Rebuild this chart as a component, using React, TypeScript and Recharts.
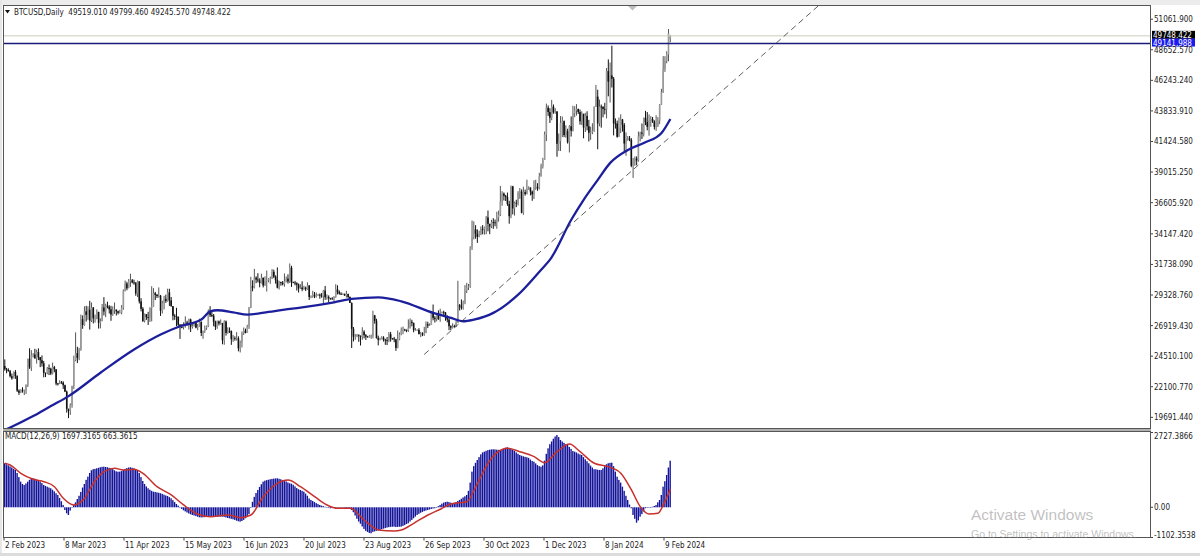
import React from 'react';
import { ComposedChart, Bar, Line, XAxis, YAxis, ReferenceLine } from 'recharts';

const FONT = "'DejaVu Sans Condensed', 'Liberation Sans', Arial, sans-serif";

const SYMBOL_TEXT = 'BTCUSD,Daily  49519.010 49799.460 49245.570 49748.422';
const MACD_TITLE = 'MACD(12,26,9) 1697.3165 663.3615';

// Daily bars [open, high, low, close], 2 Feb 2023 .. 13 Feb 2024
const FEB23 = [
  [23731,24255,23363,23488],[23488,23586,23162,23432],[23432,23552,23290,23327],[23327,23423,22831,22933],
  [22933,23138,22656,22762],[22762,23310,22757,23265],[23265,23421,22719,22940],[22940,23005,21689,21797],
  [21797,21895,21460,21625],[21625,21891,21599,21862],[21862,22060,21635,21788],[21788,21881,21441,21808],
  [21808,22293,21532,22220],[22220,24307,22082,24307],[24307,25134,23505,23623],[23623,24983,23346,24565],
  [24565,24750,24407,24641],[24641,25093,24328,24327],[24327,25018,23927,24830],[24830,25126,24200,24436],
  [24436,24442,23644,24188],[24188,24572,23693,23947],[23947,24133,22842,23199],[23199,23218,22861,23175],
  [23175,23654,23084,23561],[23561,23857,23019,23523],[23523,23596,23021,23147],
];
const MAR23 = [
  [23147,24000,23077,23646],[23646,23739,23245,23475],[23475,23479,22213,22362],[22362,22405,22198,22353],
  [22353,22613,22307,22435],[22435,22554,22331,22429],[22429,22527,21927,22219],[22219,22267,21681,21718],
  [21718,21806,20059,20363],[20363,20370,19628,20187],[20187,20792,19883,20632],[20632,22185,20448,22163],
  [22163,24550,21918,24197],[24197,26386,24111,24746],[24746,25250,23964,24375],[24375,25167,24193,25052],
  [25052,27787,24932,27423],[27423,27724,26667,26965],[26965,28440,26907,28038],[28038,28473,27242,27768],
  [27768,28439,27375,28176],[28176,28868,26601,27307],[27307,28739,27196,28333],[28333,28383,27091,27493],
  [27493,27791,27156,27494],[27494,28194,27422,27994],[27994,28008,26683,27139],[27139,27489,26699,27268],
  [27268,28619,27259,28348],[28348,29159,27720,28033],[28033,28640,27583,28478],
];
const APR23 = [
  [28478,28802,28275,28411],[28411,28529,27872,28200],[28200,28474,27295,27790],[27790,28433,27681,28168],
  [28168,28739,27843,28177],[28177,28189,27713,28044],[28044,28099,27796,27926],[27926,28166,27883,27948],
  [27948,28532,27808,28333],[28333,29770,28170,29653],[29653,30470,29606,30235],[30235,30368,29702,29856],
  [29856,30590,29874,30395],[30395,31005,29968,30485],[30485,30591,30247,30319],[30319,30539,30140,30315],
  [30315,30320,29266,29445],[29445,30470,29163,30397],[30397,30410,28661,28823],[28823,29076,28037,28245],
  [28245,28371,27207,27277],[27277,27872,27169,27817],[27817,27820,27367,27592],[27592,28003,26970,27525],
  [27525,28371,27207,28307],[28307,30020,27250,28422],[28422,29871,28400,29473],[29473,29573,28930,29340],
  [29340,29415,29092,29249],[29249,29930,29125,29268],
];
const MAY23 = [
  [29268,29330,27680,28091],[28091,28876,27873,28680],[28680,29259,28192,29031],[29031,29359,28707,28848],
  [28848,29827,28800,29535],[29535,29820,28468,28904],[28904,29173,28403,28455],[28455,28455,27333,27695],
  [27695,27819,27372,27654],[27654,28323,26866,27622],[27622,27622,26781,26988],[26988,27042,25872,26805],
  [26805,27029,26710,26785],[26785,27181,26612,26931],[26931,27646,26761,27170],[27170,27299,26910,27033],
  [27033,27465,26601,27399],[27399,27466,26415,26833],[26833,27176,26682,26890],[26890,27156,26844,27118],
  [27118,27265,26706,26754],[26754,27045,26556,26852],[26852,27469,26830,27226],[27226,27226,26092,26334],
  [26334,26529,25878,26476],[26476,26919,26345,26719],[26719,26930,26580,26868],[26868,28193,26802,28085],
  [28085,28447,27598,27745],[27745,28044,27588,27702],[27702,27832,26866,27219],
];
const JUN23 = [
  [27219,27303,26575,26819],[26819,27317,26666,27249],[27249,27317,26924,27075],[27075,27407,26986,27119],
  [27119,27131,25446,25760],[25760,27341,25409,27238],[27238,27317,26133,26345],[26345,26782,26272,26508],
  [26508,26775,26340,26480],[26480,26532,25400,25851],[25851,26179,25642,25940],[25940,26071,25727,25902],
  [25902,26403,25738,25919],[25919,26075,24891,25124],[25124,25738,24800,25577],[25577,26463,25192,26328],
  [26328,26770,26181,26511],[26511,26678,26308,26337],[26337,26984,26337,26852],[26852,28389,26657,28328],
  [28328,30760,28299,30027],[30027,30487,29620,29912],[29912,31389,29845,30695],[30695,30800,30263,30548],
  [30548,31045,30324,30481],[30481,30646,29938,30271],[30271,31006,30236,30689],[30689,30703,29926,30086],
  [30086,30796,30058,30446],[30446,31256,29600,30477],
];
const JUL23 = [
  [30477,30649,30330,30590],[30590,30783,30210,30620],[30620,31375,30587,31156],[31156,31325,30659,30777],
  [30777,30877,30223,30514],[30514,31500,29850,29909],[29909,30446,29758,30346],[30346,30378,30064,30292],
  [30292,30427,30085,30172],[30172,31026,29985,30414],[30414,30788,30324,30620],[30620,30959,30228,30392],
  [30392,31814,30269,31476],[31476,31630,29966,30334],[30334,30381,30264,30295],[30295,30437,30089,30249],
  [30249,30336,29685,30145],[30145,30233,29525,29856],[29856,30184,29813,29913],[29913,30410,29629,29792],
  [29792,30055,29734,29908],[29908,29991,29641,29792],[29792,30326,29733,30084],[30084,30093,28934,29177],
  [29177,29298,29074,29228],[29228,29659,29115,29354],[29354,29567,29085,29211],[29211,29524,29125,29314],
  [29314,29402,29262,29353],[29353,29447,29033,29281],[29281,29489,29113,29232],
];
const AUG23 = [
  [29232,29738,28657,29676],[29676,30045,28946,29152],[29152,29376,28959,29178],[29178,29302,28752,29074],
  [29074,29102,28957,29042],[29042,29160,28963,29041],[29041,29244,28724,29180],[29180,30176,29114,29765],
  [29765,30093,29376,29561],[29561,29688,29354,29429],[29429,29542,29328,29397],[29397,29470,29357,29415],
  [29415,29442,29265,29283],[29283,29660,29125,29409],[29409,29439,29088,29170],[29170,29221,28701,28701],
  [28701,28745,25150,26664],[26664,26808,25668,26049],[26049,26260,25802,26096],[26096,26260,26004,26189],
  [26189,26220,25640,26124],[26124,26135,25350,26031],[26031,26787,25804,26431],[26431,26554,25915,26163],
  [26163,26249,25786,26049],[26049,26107,25983,26009],[26009,26167,25965,26090],[26090,26217,25880,26107],
  [26107,28089,25912,27727],[27727,27760,27069,27297],[27297,27456,25900,25931],
];
const SEP23 = [
  [25931,26125,25362,25800],[25800,25970,25753,25869],[25869,26087,25817,25969],[25969,26081,25657,25812],
  [25812,25876,25404,25779],[25779,26021,25382,25753],[25753,26409,25615,26241],[26241,26419,25656,25906],
  [25906,25944,25811,25895],[25895,26026,25605,25832],[25832,25877,24930,25163],[25163,26530,25131,25833],
  [25833,26376,25764,26229],[26229,26774,26158,26539],[26539,26840,26241,26608],[26608,26668,26474,26568],
  [26568,26618,26397,26534],[26534,27409,26415,26754],[26754,27488,26681,27211],[27211,27379,26864,27132],
  [27132,27152,26389,26567],[26567,26726,26495,26579],[26579,26620,26522,26580],[26580,26716,26221,26256],
  [26256,26427,26011,26298],[26298,26389,26090,26217],[26217,26817,26112,26352],[26352,27244,26321,27021],
  [27021,27225,26721,26911],[26911,27091,26888,26967],
];
const OCT23 = [
  [26967,28047,26965,27983],[27983,28580,27335,27530],[27530,27668,27160,27429],[27429,27831,27248,27799],
  [27799,28120,27375,27415],[27415,28252,27216,27946],[27946,28028,27870,27968],[27968,28092,27687,27935],
  [27935,27989,27302,27583],[27583,27732,27170,27391],[27391,27479,26559,26873],[26873,26939,26561,26756],
  [26756,27094,26685,26862],[26862,26989,26789,26861],[26861,27289,26800,27159],[27159,30450,27130,28519],
  [28519,28615,28111,28415],[28415,28980,28175,28328],[28328,28889,28179,28719],[28719,30104,28601,29682],
  [29682,30287,29481,29918],[29918,30199,29720,29993],[29993,33167,29893,33086],[33086,35199,32880,33901],
  [33901,35133,33709,34502],[34502,34832,33762,34156],[34156,34497,33436,33909],[33909,34399,33875,34090],
  [34090,34731,34045,34538],[34538,34834,34112,34502],[34502,34720,34083,34667],
];
const NOV23 = [
  [34667,35560,34119,35437],[35437,35984,34347,34938],[34938,34944,34125,34732],[34732,35251,34600,35082],
  [35082,35380,34544,35049],[35049,35276,34745,35037],[35037,35889,34548,35443],[35443,35979,35111,35655],
  [35655,37926,35549,36693],[36693,37507,36360,37313],[37313,37410,36774,37138],[37138,37215,36731,37054],
  [37054,37402,36352,36502],[36502,36753,34948,35537],[35537,37948,35380,37880],[37880,37930,35680,36154],
  [36154,36689,35586,36596],[36596,36832,36252,36585],[36585,37512,36383,37386],[37386,37758,36904,37476],
  [37476,37650,35765,35813],[35813,37861,35644,37432],[37432,37634,37160,37289],[37289,38415,37253,37720],
  [37720,37892,37617,37797],[37797,37808,37175,37479],[37479,37559,36750,37254],[37254,38368,36891,37831],
  [37831,38409,37618,37858],[37858,38141,37536,37712],
];
const DEC23 = [
  [37712,38954,37644,38688],[38688,39676,38653,39476],[39476,40135,39297,39978],[39978,42210,39972,41980],
  [41980,44408,41458,44081],[44081,44265,43444,43747],[43747,44045,42887,43292],[43292,44700,43104,44167],
  [44167,44339,43612,43725],[43725,44043,43608,43779],[43779,43832,40222,41243],[41243,42048,40680,41450],
  [41450,43429,40676,42891],[42891,43390,41767,43023],[43023,43080,41767,41929],[41929,42702,41719,42240],
  [42240,42427,41262,41364],[41364,42715,40560,42623],[42623,43398,41818,42270],[42270,44240,42218,43652],
  [43652,44206,43335,43869],[43869,44367,43464,43997],[43997,43999,43589,43740],[43740,43946,42749,43017],
  [43017,43802,42720,43613],[43613,43603,41676,42520],[42520,43683,42168,43442],[43442,43805,42302,42627],
  [42627,43124,41424,42099],[42099,42587,41556,42156],[42156,42860,41998,42265],
];
const JAN24 = [
  [42265,44184,42181,44167],[44167,45879,44148,44958],[44958,45500,40813,42848],[42848,44729,42625,44179],
  [44179,44339,42516,44162],[44162,44187,43328,43989],[43989,44468,43563,43943],[43943,47218,43245,46970],
  [46970,47893,44984,46139],[46139,47647,44495,46627],[46627,48969,45679,46368],[46368,46498,41903,42853],
  [42853,43247,42441,42842],[42842,43065,41725,41796],[41796,43311,41793,42511],[42511,43566,42085,43155],
  [43155,43199,42205,42742],[42742,42876,40634,41262],[41262,42136,40297,41618],[41618,41848,41485,41665],
  [41665,41856,41448,41545],[41545,41689,39400,39507],[39507,40128,38555,39845],[39845,40242,39507,40077],
  [40077,40254,39550,39933],[39933,42209,39826,41816],[41816,42195,41431,42120],[42120,42842,41620,42035],
  [42035,43305,41818,43288],[43288,43838,42711,42952],[42952,43745,42304,42582],
];
const FEB24 = [
  [42582,43556,41885,43082],[43082,43422,42585,43185],[43185,43359,42891,42992],[42992,43098,42365,42583],
  [42583,43494,42258,42658],[42658,43344,42565,43084],[43084,44369,42789,44318],[44318,45575,44300,45301],
  [45301,48152,45254,47147],[47147,48146,46906,47771],[47771,48536,47587,48293],[48293,50285,47745,49958],
  [49519.01,49799.46,49245.57,49748.422],
];

// MACD(12,26,9) main line per bar (drawn as histogram)
const MACD_MAIN = [
  1605,1570,1530,1490,1450,1400,1360,1250,1100,934,
  850,813,870,934,1000,1040,1058,1040,1010,990,
  940,880,813,780,750,720,693,640,580,510,
  449,340,220,84,-100,-220,-281,-120,0,84,
  180,300,420,560,720,850,1000,1116,1250,1350,
  1390,1400,1422,1440,1460,1475,1481,1470,1460,1440,
  1422,1390,1350,1310,1298,1300,1320,1360,1400,1430,
  1450,1459,1440,1420,1390,1360,1250,1100,960,850,
  760,693,640,600,569,560,545,530,511,490,
  460,430,412,370,328,260,190,120,60,0,
  -60,-110,-150,-190,-225,-255,-280,-300,-320,-345,
  -365,-370,-365,-360,-355,-350,-345,-343,-343,-345,
  -350,-343,-340,-343,-350,-370,-390,-405,-420,-438,
  -460,-490,-510,-525,-500,-460,-400,-330,-250,-20,
  200,380,520,631,740,840,934,970,990,1005,
  1021,1035,1045,1052,1058,1040,1020,996,970,940,
  905,875,860,820,760,700,660,630,600,569,
  500,420,320,266,230,190,150,115,84,60,
  40,20,0,-20,-36,-30,-20,-10,0,5,
  0,-10,-20,-30,-36,-40,-100,-180,-300,-420,
  -520,-600,-700,-790,-860,-900,-935,-948,-900,-880,
  -860,-840,-828,-800,-780,-760,-740,-725,-715,-710,
  -707,-720,-715,-710,-707,-680,-650,-610,-584,-520,
  -460,-400,-340,-281,-240,-200,-170,-140,-120,-98,
  -80,-60,-45,-36,0,40,84,130,170,190,
  204,190,170,146,160,190,230,266,310,360,
  400,449,600,900,1300,1500,1620,1725,1830,1930,
  2000,2028,2060,2085,2100,2110,2115,2110,2100,2095,
  2090,2110,2140,2170,2188,2160,2130,2090,2060,2000,
  1950,1907,1880,1860,1840,1824,1800,1740,1690,1663,
  1600,1540,1500,1481,1530,1700,1950,2150,2300,2400,
  2500,2580,2637,2560,2454,2400,2350,2300,2272,2200,
  2130,2050,2028,2000,1960,1930,1907,1830,1750,1680,
  1605,1520,1450,1390,1386,1370,1360,1360,1420,1500,
  1570,1605,1620,1627,1500,1300,1116,1000,900,751,
  600,420,266,100,-36,-281,-420,-562,-480,-343,
  -250,-150,-36,-20,-10,0,20,47,80,180,
  266,450,751,950,1178,1450,1697,
];

// Signal line read at these bars
const SIGNAL_IDX = [0,3,9,16,22,28,33,39,45,50,56,62,67,73,78,86,94,101,109,116,126,133,139,146,154,160,167,175,182,188,195,203,211,220,224,231,239,246,252,261,267,273,278,284,291,299,305,312,319,325,333,341,348,354,359,364,369,372,376];
const SIGNAL_VAL = [1605,1543,1240,1021,934,751,328,84,328,875,1298,1422,1360,1386,1240,751,449,84,-255,-343,-281,-379,-281,387,875,996,751,387,84,-36,-36,-463,-828,-864,-828,-584,-281,-73,120,204,875,1605,1991,2152,2028,1845,1627,2028,2309,2028,1605,1481,1240,631,22,-244,-219,84,663];

// Moving average read at these bars
const MA_IDX = [0,3,16,26,36,54,73,88,99,111,116,120,129,137,149,158,167,186,196,211,224,242,252,259,265,276,290,303,308,320,327,335,342,352,361,371,376];
const MA_VAL = [18700,18890,19790,20577,21363,23203,25035,26215,26868,27394,28047,28126,27968,27788,28000,28181,28338,28755,29022,29148,28833,27921,27528,27261,27394,27921,29360,31326,32112,35257,36830,38403,39739,40761,41312,42098,43199];

const PRICE_TICKS = [51061.9,48652.57,46243.24,43833.91,41424.58,39015.25,36605.92,34147.42,31738.09,29328.76,26919.43,24510.1,22100.77,19691.44];
const MACD_TICKS = [2727.3866, 0, -1102.3538];
const MACD_TICK_LABELS = ['2727.3866', '0.00', '-1102.3538'];
const DATE_TICKS = [-0.5,33.4,67.3,101.2,135.1,169,202.9,236.8,270.7,304.6,338.5,372.4];
const DATE_LABELS = ['2 Feb 2023','8 Mar 2023','11 Apr 2023','15 May 2023','16 Jun 2023','20 Jul 2023','23 Aug 2023','26 Sep 2023','30 Oct 2023','1 Dec 2023','8 Jan 2024','9 Feb 2024'];

const BID_PRICE = 49748.422;
const LEVEL_PRICE = 49141.988;
const TREND_IDX = [236.9, 460];
const TREND_PRICE = [24642, 52163];

const X_DOMAIN = [-0.5, 647];
const PRICE_DOMAIN = [18850, 52100];
const MACD_DOMAIN = [-1102.3538, 2727.3866];

const OHLC = [...FEB23, ...MAR23, ...APR23, ...MAY23, ...JUN23, ...JUL23, ...AUG23, ...SEP23, ...OCT23, ...NOV23, ...DEC23, ...JAN24, ...FEB24];
const maMap = new Map<number, number>(MA_IDX.map((k, j) => [k, MA_VAL[j]]));
const sigMap = new Map<number, number>(SIGNAL_IDX.map((k, j) => [k, SIGNAL_VAL[j]]));
const rows = OHLC.map(([o, h, l, c], i) => ({
  i, o, h, l, c,
  range: [l, h],
  ma: maMap.has(i) ? maMap.get(i) : null,
  macd: MACD_MAIN[i],
  signal: sigMap.has(i) ? sigMap.get(i) : null,
}));

const Candle = (props: any) => {
  const { x, y, width, height, payload } = props;
  if (!payload || x == null || y == null) return null;
  const top = Math.min(y, y + height);
  const hgt = Math.abs(height);
  const cx = x + width / 2;
  const { o, h, l, c } = payload;
  const span = h - l;
  const py = (v: number) => (span > 0 ? top + ((h - v) / span) * hgt : top);
  const up = c >= o;
  const bTop = py(Math.max(o, c));
  const bBot = py(Math.min(o, c));
  return (
    <g>
      <line x1={cx} x2={cx} y1={top} y2={top + hgt} stroke={up ? '#555' : '#111'} strokeWidth={1} />
      <rect x={cx - 0.8} y={bTop} width={1.6} height={Math.max(bBot - bTop, 0.8)} fill={up ? '#9a9a9a' : '#111'} />
    </g>
  );
};

const Hist = (props: any) => {
  const { x, y, width, height } = props;
  if (x == null || y == null) return null;
  const top = Math.min(y, y + height);
  const hgt = Math.max(Math.abs(height), 0.5);
  const cx = x + width / 2;
  return <rect x={cx - 0.7} y={top} width={1.4} height={hgt} fill="#14149a" />;
};

const PriceTick = (props: any) => {
  const { x, y, payload } = props;
  return (
    <text x={x - 1} y={y} dy={3} fontSize={8} fontFamily={FONT} fill="#222">
      {Number(payload.value).toFixed(3)}
    </text>
  );
};

const MacdTick = (props: any) => {
  const { x, y, payload } = props;
  const k = MACD_TICKS.indexOf(payload.value);
  const yy = Math.min(Math.max(y, 5.5), 104.5);
  return (
    <text x={x - 1} y={yy} dy={3} fontSize={8} fontFamily={FONT} fill="#222">
      {k >= 0 ? MACD_TICK_LABELS[k] : ''}
    </text>
  );
};

const DateTick = (props: any) => {
  const { x, y, payload } = props;
  const k = DATE_TICKS.indexOf(payload.value);
  return (
    <text x={x + 1} y={y} dy={7} fontSize={8} fontFamily={FONT} fill="#222">
      {k >= 0 ? DATE_LABELS[k] : ''}
    </text>
  );
};

const PriceBox = (bg: string, text: string) => (props: any) => {
  const vb = props.viewBox || {};
  const bx = vb.x + vb.width + 2;
  const by = vb.y - 1;
  return (
    <g>
      <rect x={bx} y={by - 4} width={43} height={8} fill={bg} />
      <text x={bx + 1} y={by} dy={3} fontSize={8} fontFamily={FONT} fill="#fff">{text}</text>
    </g>
  );
};

export default function App() {
  return (
    <div style={{ position: 'absolute', left: 0, top: 0, width: 1200, height: 556, background: '#fff', overflow: 'hidden' }}>
      <div style={{ position: 'absolute', left: 0, top: 0, width: 1200, height: 5, background: '#ececec' }} />
      <div style={{ position: 'absolute', left: 0, top: 0, width: 2, height: 556, background: '#e6e6e6' }} />
      <div style={{ position: 'absolute', left: 0, top: 553, width: 1200, height: 3, background: '#dcdcdc' }} />
      <div style={{ position: 'absolute', left: 0, top: 0 }}>
        <ComposedChart width={1200} height={430} data={rows} margin={{ top: 6, right: 4, bottom: 2, left: 4 }}>
          <XAxis dataKey="i" type="number" domain={X_DOMAIN} hide allowDataOverflow />
          <YAxis
            orientation="right"
            width={46}
            domain={PRICE_DOMAIN}
            ticks={PRICE_TICKS}
            interval={0}
            allowDataOverflow
            axisLine={false}
            tickLine={{ stroke: '#444' }}
            tickSize={3}
            tickMargin={2}
            tick={<PriceTick />}
          />
          <ReferenceLine y={BID_PRICE} stroke="#cdcdbd" strokeWidth={1} label={PriceBox('#000', '49748.422')} />
          <Bar dataKey="range" barSize={2} shape={<Candle />} isAnimationActive={false} />
          <Line dataKey="ma" type="monotone" connectNulls dot={false} stroke="#1c1f9c" strokeWidth={2.3} isAnimationActive={false} />
          <ReferenceLine
            segment={[{ x: TREND_IDX[0], y: TREND_PRICE[0] }, { x: TREND_IDX[1], y: TREND_PRICE[1] }]}
            stroke="#333"
            strokeWidth={0.8}
            strokeDasharray="6 4"
            ifOverflow="hidden"
          />
          <ReferenceLine y={LEVEL_PRICE} stroke="#1a1a7a" strokeWidth={1.5} label={PriceBox('#1a1aee', '49141.988')} />
        </ComposedChart>
      </div>
      <div style={{ position: 'absolute', left: 0, top: 430 }}>
        <ComposedChart width={1200} height={126} data={rows} margin={{ top: 2.5, right: 4, bottom: 0, left: 4 }}>
          <XAxis
            dataKey="i"
            type="number"
            domain={X_DOMAIN}
            ticks={DATE_TICKS}
            interval={0}
            allowDataOverflow
            height={18.5}
            axisLine={false}
            tickLine={{ stroke: '#444' }}
            tickSize={3}
            tickMargin={0}
            tick={<DateTick />}
          />
          <YAxis
            orientation="right"
            width={46}
            domain={MACD_DOMAIN}
            ticks={MACD_TICKS}
            interval={0}
            allowDataOverflow
            axisLine={false}
            tickLine={{ stroke: '#444' }}
            tickSize={3}
            tickMargin={2}
            tick={<MacdTick />}
          />
          <Bar dataKey="macd" barSize={1.4} shape={<Hist />} isAnimationActive={false} />
          <Line dataKey="signal" type="monotone" connectNulls dot={false} stroke="#c8302c" strokeWidth={1.5} isAnimationActive={false} />
        </ComposedChart>
      </div>
      {/* panel frames */}
      <div style={{ position: 'absolute', left: 3, top: 5, width: 1148, height: 424, border: '1px solid #555', boxSizing: 'border-box', pointerEvents: 'none' }} />
      <div style={{ position: 'absolute', left: 3, top: 429, width: 1148, height: 2, background: '#b0b0b0', pointerEvents: 'none' }} />
      <div style={{ position: 'absolute', left: 3, top: 431, width: 1148, height: 107, border: '1px solid #555', boxSizing: 'border-box', pointerEvents: 'none' }} />
      {/* headers */}
      <svg style={{ position: 'absolute', left: 0, top: 0, pointerEvents: 'none' }} width={1200} height={20}>
        <polygon points="5,10 10,10 7.5,13.5" fill="#111" />
        <polygon points="628,6 637,6 632.5,10.5" fill="#bdbdbd" />
      </svg>
      <div style={{ position: 'absolute', left: 14, top: 8, fontFamily: FONT, fontSize: 8, lineHeight: '9px', color: '#222', whiteSpace: 'pre' }}>{SYMBOL_TEXT}</div>
      <div style={{ position: 'absolute', left: 5, top: 432, fontFamily: FONT, fontSize: 8, lineHeight: '9px', color: '#222', whiteSpace: 'pre' }}>{MACD_TITLE}</div>
      <div style={{ position: 'absolute', left: 971, top: 506, fontFamily: "'Liberation Sans', Arial, sans-serif", fontSize: 15.5, lineHeight: '18px', color: 'rgba(140,140,140,0.55)', whiteSpace: 'pre' }}>Activate Windows</div>
      <div style={{ position: 'absolute', left: 971, top: 528, fontFamily: "'Liberation Sans', Arial, sans-serif", fontSize: 10.5, lineHeight: '13px', color: 'rgba(140,140,140,0.55)', whiteSpace: 'pre' }}>Go to Settings to activate Windows.</div>
    </div>
  );
}
